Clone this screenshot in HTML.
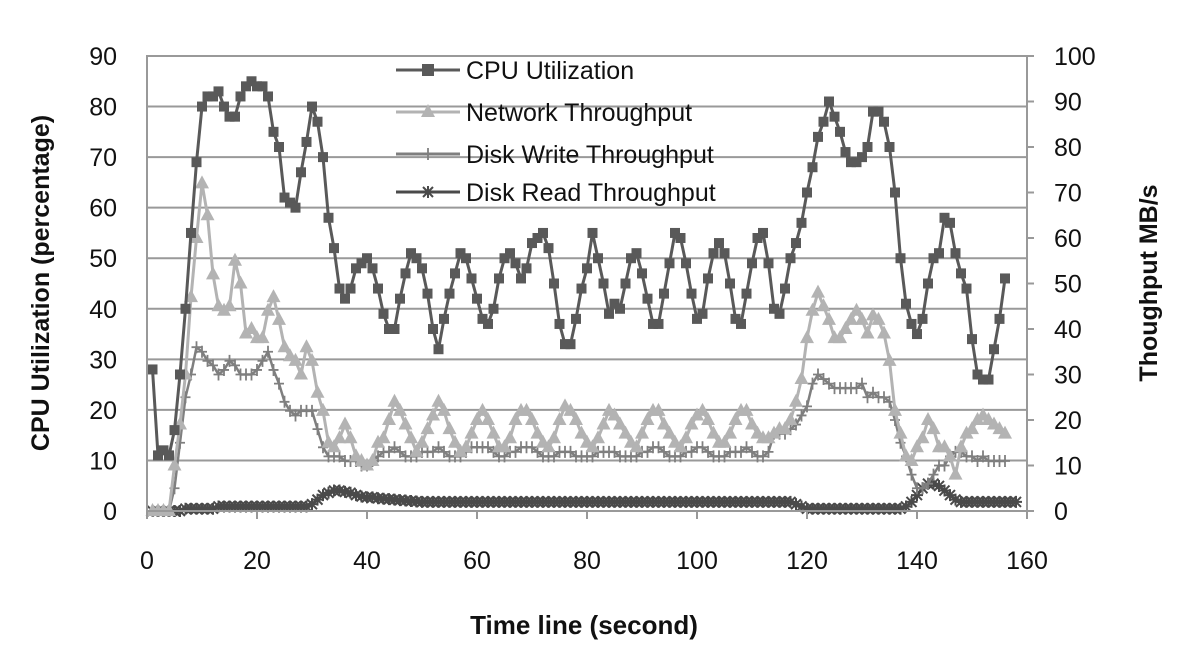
<!DOCTYPE html>
<html><head><meta charset="utf-8"><style>
body{margin:0;background:#fff;}
svg text{font-family:"Liberation Sans",sans-serif;fill:#111;}
</style></head><body>
<svg id="chart" width="1184" height="666" xmlns="http://www.w3.org/2000/svg">
<g id="grid"></g><g id="series"></g><g id="axes"></g>
<text x="584" y="634" text-anchor="middle" font-size="26" font-weight="bold">Time line (second)</text>
<text transform="translate(49,283) rotate(-90)" text-anchor="middle" font-size="25" font-weight="bold">CPU Utilization (percentage)</text>
<text transform="translate(1157,283) rotate(-90)" text-anchor="middle" font-size="25" font-weight="bold">Thoughput MB/s</text>
<g id="legend"></g>
</svg>
<script>
const cpu=[28,11,12,11,16,27,40,55,69,80,82,82,83,80,78,78,82,84,85,84,84,82,75,72,62,61,60,67,73,80,77,70,58,52,44,42,44,48,49,50,48,44,39,36,36,42,47,51,50,48,43,36,32,38,43,47,51,50,46,42,38,37,40,46,50,51,49,46,48,53,54,55,52,45,37,33,33,38,44,48,55,50,45,39,41,40,45,50,51,47,42,37,37,43,49,55,54,49,43,38,39,46,51,53,51,45,38,37,43,49,54,55,49,40,39,44,50,53,57,63,68,74,77,81,78,75,71,69,69,70,72,79,79,77,72,63,50,41,37,35,38,45,50,51,58,57,51,47,44,34,27,26,26,32,38,46];
const network=[0,0,0,0,10,19,30,47,60,72,65,52,45,44,45,55,50,39,40,38,38,44,47,42,36,34,33,30,36,33,26,22,15,14,16,19,16,12,11,10,11,15,16,20,24,22,19,16,13,15,18,21,24,22,18,15,13,14,17,20,22,20,17,14,14,16,20,22,22,20,17,15,14,16,20,23,22,20,17,15,14,16,19,22,21,19,17,15,14,17,20,22,22,19,17,15,14,16,19,21,22,20,17,15,15,17,20,22,22,19,17,16,16,17,18,18,20,24,29,38,44,48,45,42,38,38,40,42,44,42,39,43,42,39,33,22,17,12,11,14,16,20,18,14,14,12,8,14,17,18,20,21,20,19,18,17];
const diskWrite=[0,0,0,0,5,15,25,30,36,35,33,32,30,31,33,32,30,30,30,31,33,35,31,28,24,22,21,22,22,22,18,14,12,12,12,11,11,11,10,10,11,12,13,13,14,13,12,12,12,13,13,13,14,13,12,12,12,13,14,14,14,14,13,12,12,13,13,14,14,14,13,12,12,12,13,13,13,12,12,12,12,13,13,13,13,12,12,12,12,13,13,14,14,13,12,12,12,13,13,14,14,13,12,12,12,13,13,13,14,13,12,12,13,17,17,17,18,19,21,23,28,30,29,28,27,27,27,27,27,28,25,26,25,25,24,20,15,12,8,5,5,6,8,10,10,12,13,13,12,12,11,12,11,11,11,11];
const diskRead=[0,0,0,0,0,0,0.5,0.5,0.5,0.5,0.5,0.5,1,1,1,1,1,1,1,1,1,1,1,1,1,1,1,1,1,1.5,2.5,3.5,4,4.5,4.5,4.2,4,3.5,3.2,3,3,2.8,2.7,2.6,2.5,2.4,2.3,2.2,2.1,2,2,2,2,2,2,2,2,2,2,2,2,2,2,2,2,2,2,2,2,2,2,2,2,2,2,2,2,2,2,2,2,2,2,2,2,2,2,2,2,2,2,2,2,2,2,2,2,2,2,2,2,2,2,2,2,2,2,2,2,2,2,2,2,2,2,2,2,1.5,1,0.5,0.5,0.5,0.5,0.5,0.5,0.5,0.5,0.5,0.5,0.5,0.5,0.5,0.5,0.5,0.5,0.5,0.5,1,2,3.5,5,6,6,5.5,4.5,3.5,2.5,2,2,2,2,2,2,2,2,2,2,2];
const xTicks=[0,20,40,60,80,100,120,140,160];
const leftTicks=[0,10,20,30,40,50,60,70,80,90];
const rightTicks=[0,10,20,30,40,50,60,70,80,90,100];
const L=147,R=1027,T=56,B=511;
const sx=v=>L+(v/160)*(R-L);
const syL=v=>B-(v/90)*(B-T);
const syR=v=>B-(v/100)*(B-T);
const NS="http://www.w3.org/2000/svg";
function mk(tag,attrs,parent){const e=document.createElementNS(NS,tag);for(const k in attrs)e.setAttribute(k,attrs[k]);parent.appendChild(e);return e;}
const grid=document.getElementById('grid'),axes=document.getElementById('axes'),series=document.getElementById('series'),legend=document.getElementById('legend');
leftTicks.forEach(v=>{
  const g=mk('line',{x1:L,x2:R,y1:syL(v),y2:syL(v),stroke:'#999','stroke-width':2},grid);
  
  
  const t=mk('text',{x:L-30,y:syL(v)+9,'text-anchor':'end','font-size':25},axes);t.textContent=v;
  
  
});
rightTicks.forEach(v=>{
  const tk=mk('line',{x1:R,x2:R+7,y1:syR(v),y2:syR(v),stroke:'#999','stroke-width':2},axes);
  
  
  const t=mk('text',{x:R+27,y:syR(v)+9,'text-anchor':'start','font-size':25},axes);t.textContent=v;
  
  
});
xTicks.forEach(v=>{
  const tk=mk('line',{x1:sx(v),x2:sx(v),y1:B,y2:B+8,stroke:'#999','stroke-width':2},axes);
  
  
  const t=mk('text',{x:sx(v),y:B+58,'text-anchor':'middle','font-size':25},axes);t.textContent=v;
  
  
});
const fr=mk('rect',{x:L,y:T,width:R-L,height:B-T,fill:'none',stroke:'#999','stroke-width':2},axes);


function marker(kind,x,y,col,parent){
  if(kind==='sq'){return mk('rect',{x:x-5,y:y-5,width:10,height:10,fill:col},parent);}
  if(kind==='tri'){return mk('polygon',{points:`${x},${y-8} ${x-7},${y+5} ${x+7},${y+5}`,fill:col},parent);}
  if(kind==='plus'){return mk('path',{d:`M${x-5} ${y}H${x+5}M${x} ${y-6}V${y+6}`,stroke:col,'stroke-width':1.8},parent);}
  return mk('path',{d:`M${x-5} ${y-5}L${x+5} ${y+5}M${x+5} ${y-5}L${x-5} ${y+5}M${x-6} ${y}H${x+6}M${x} ${y-6}V${y+6}`,stroke:col,'stroke-width':2},parent);
}
const defs=[
 {name:'disk-read',label:'Disk Read Throughput',data:diskRead,sy:syR,col:'#4a4a4a',m:'star',w:3},
 {name:'disk-write',label:'Disk Write Throughput',data:diskWrite,sy:syR,col:'#7f7f7f',m:'plus',w:2.5},
 {name:'network',label:'Network Throughput',data:network,sy:syR,col:'#b3b3b3',m:'tri',w:3},
 {name:'cpu',label:'CPU Utilization',data:cpu,sy:syL,col:'#595959',m:'sq',w:3},
];
defs.forEach(d=>{
  const g=mk('g',{},series);
  
  
  const pts=d.data.map((v,i)=>sx(i+1)+','+d.sy(v)).join(' ');
  const pl=mk('polyline',{points:pts,fill:'none',stroke:d.col,'stroke-width':d.w,'stroke-linejoin':'round'},g);
  
  
  d.data.forEach((v,i)=>{const m=marker(d.m,sx(i+1),d.sy(v),d.col,g);
    
    });
});
const legY=[70,112,154,192];
[3,2,1,0].forEach((k,j)=>{
  const d=defs[k],y=legY[j];
  const g=mk('g',{},legend);
  
  
  mk('line',{x1:396,x2:460,y1:y,y2:y,stroke:d.col,'stroke-width':3},g);
  const m=marker(d.m,428,y,d.col,g);
  if(d.m==='sq'){m.setAttribute('width',12);m.setAttribute('height',12);m.setAttribute('x',422);m.setAttribute('y',y-6);}
  const t=mk('text',{x:466,y:y+9,'font-size':25},g);t.textContent=d.label;
});
</script>
</body></html>
